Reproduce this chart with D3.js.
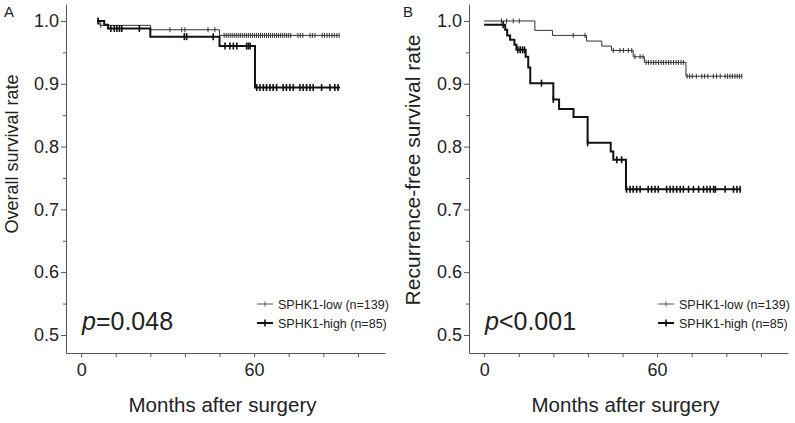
<!DOCTYPE html>
<html><head><meta charset="utf-8">
<script src="https://cdn.jsdelivr.net/npm/d3@7"></script>
<style>body{margin:0;background:#fff} svg{display:block;font-family:"Liberation Sans",Arial,sans-serif}</style>
</head><body><svg id="c" width="795" height="423"></svg>
<script>
// ---------- data ----------
const xTicks = [0, 12, 24, 36, 48, 60, 72, 84, 96];
const xTickLabels = [0, 60];
const yMajorTicks = [0.5, 0.6, 0.7, 0.8, 0.9, 1.0];
const yMinorTicks = [0.55, 0.65, 0.75, 0.85, 0.95];
const seriesNames = ["SPHK1-low (n=139)", "SPHK1-high (n=85)"];

// Panel A: overall survival  [month, survival]
const osLowSteps = [[5.5, 1.0], [6.5, 0.993], [24.1, 0.986], [48.0, 0.977]];
const osLowEnd = 89.5;
const osLowCensor = [5.8, 6.8, 30.8, 34.9, 36.0, 44.0, 46.4, 49.6, 50.3, 51.0, 51.7, 52.4, 53.1, 53.8, 54.5, 55.2, 55.9, 56.6, 57.3, 58.0, 58.7, 59.4, 60.1, 60.8, 61.5, 62.2, 62.9, 63.6, 64.3, 65.0, 65.7, 66.4, 67.1, 67.8, 68.5, 69.2, 69.9, 70.6, 71.3, 72.0, 72.7, 75.2, 76.0, 76.9, 79.4, 80.2, 81.1, 83.6, 84.4, 85.3, 86.1, 87.0, 87.8, 88.7, 89.5];
const osHighSteps = [[5.5, 1.0], [8.0, 0.994], [9.3, 0.988], [24.0, 0.975], [48.0, 0.960], [60.3, 0.894]];
const osHighEnd = 89.8;
const osHighCensor = [5.9, 10.3, 11.5, 12.4, 13.3, 14.1, 20.2, 35.8, 36.6, 45.8, 49.9, 51.6, 52.8, 54.0, 57.4, 58.0, 58.6, 60.9, 62.0, 63.2, 64.3, 65.5, 66.6, 67.8, 70.1, 71.2, 72.4, 73.6, 75.9, 77.0, 78.2, 79.4, 80.5, 83.4, 86.3, 88.0, 89.1];

// Panel B: recurrence-free survival
const rfsLowSteps = [[0, 1.0], [17.6, 0.985], [23.7, 0.977], [35.5, 0.968], [40.8, 0.960], [44.2, 0.953], [51.7, 0.943], [55.6, 0.934], [70.0, 0.912]];
const rfsLowEnd = 89.4;
const rfsLowCensor = [6.0, 7.8, 10.1, 12.2, 30.9, 35.0, 44.8, 47.1, 48.3, 50.0, 51.2, 52.3, 54.1, 55.1, 56.2, 57.0, 57.9, 58.8, 59.6, 60.5, 61.4, 62.2, 63.1, 64.0, 64.8, 65.7, 66.6, 67.4, 68.3, 69.1, 70.4, 71.3, 72.2, 73.6, 75.5, 76.5, 77.6, 79.5, 80.6, 81.9, 83.6, 84.4, 85.3, 86.1, 87.0, 87.8, 88.6, 89.4];
const rfsHighSteps = [[0, 0.994], [7.3, 0.986], [8.0, 0.977], [9.0, 0.970], [10.5, 0.962], [11.2, 0.954], [14.4, 0.943], [15.3, 0.926], [16.0, 0.901], [24.0, 0.875], [26.0, 0.860], [31.0, 0.847], [35.9, 0.806], [43.9, 0.792], [44.8, 0.779], [49.2, 0.732]];
const rfsHighEnd = 89.0;
const rfsHighCensor = [6.6, 11.7, 12.5, 13.3, 14.0, 19.9, 24.0, 35.9, 46.0, 47.7, 49.4, 50.6, 51.7, 52.9, 54.1, 56.9, 58.1, 59.3, 60.4, 63.3, 64.5, 65.6, 66.8, 68.0, 69.1, 70.9, 72.6, 74.4, 76.1, 77.3, 78.4, 79.6, 80.2, 83.6, 86.5, 87.7, 88.8];

// ---------- drawing ----------
const svg = d3.select("#c");
const FONT = '"Liberation Sans", Arial, sans-serif';

const panels = [
  {label: "A", left: 66, right: 385, ytitle: "Overall survival rate", ytitleX: 18, ytitleY: 154, ytitleSize: 18,
   pText: "=0.048", pSym: "p", pX: 82, legX: 257,
   series: [{steps: osLowSteps, end: osLowEnd, censor: osLowCensor, thick: false},
            {steps: osHighSteps, end: osHighEnd, censor: osHighCensor, thick: true}]},
  {label: "B", left: 469, right: 788, ytitle: "Recurrence-free survival rate", ytitleX: 420, ytitleY: 170, ytitleSize: 21,
   pText: "<0.001", pSym: "p", pX: 485, legX: 658,
   series: [{steps: rfsLowSteps, end: rfsLowEnd, censor: rfsLowCensor, thick: false},
            {steps: rfsHighSteps, end: rfsHighEnd, censor: rfsHighCensor, thick: true}]}
];

const plotTop = 4, plotBottom = 353;
const axisColor = "#555", textColor = "#222";

function survAt(steps, t) {
  let s = steps[0][1];
  for (const [tt, v] of steps) { if (tt <= t) s = v; }
  return s;
}

panels.forEach(p => {
  const x = d3.scaleLinear().domain([-5.25, 105.4]).range([p.left, p.right]);
  const y = d3.scaleLinear().domain([0.4713, 1.027]).range([plotBottom, plotTop]);
  const g = svg.append("g");

  const xa = g.append("g").attr("transform", `translate(0,${plotBottom})`)
    .call(d3.axisBottom(x).tickValues(xTicks).tickSize(4).tickSizeOuter(0).tickPadding(6)
      .tickFormat(d => xTickLabels.includes(d) ? String(d) : ""));
  const ya = g.append("g").attr("transform", `translate(${p.left},0)`)
    .call(d3.axisLeft(y).tickValues(yMajorTicks).tickSize(5).tickSizeOuter(0).tickPadding(2)
      .tickFormat(d3.format(".1f")));
  const ym = g.append("g").attr("transform", `translate(${p.left},0)`)
    .call(d3.axisLeft(y).tickValues(yMinorTicks).tickSize(3).tickSizeOuter(0).tickFormat(""));
  ym.select(".domain").remove();
  [xa, ya, ym].forEach(a => {
    a.selectAll("path,line").attr("stroke", axisColor).attr("stroke-width", 1);
    a.selectAll("text").attr("font-size", 18).attr("font-family", FONT).attr("fill", textColor);
  });

  const line = d3.line().x(d => x(d[0])).y(d => y(d[1])).curve(d3.curveStepAfter);
  p.series.forEach(s => {
    const pts = s.steps.concat([[s.end, s.steps[s.steps.length - 1][1]]]);
    g.append("path").attr("d", line(pts)).attr("fill", "none")
      .attr("stroke", s.thick ? "#111" : "#333").attr("stroke-width", s.thick ? 2 : 1);
    const h = s.thick ? 3.5 : 2.5;
    g.selectAll(null).data(s.censor).enter().append("line")
      .attr("x1", d => x(d)).attr("x2", d => x(d))
      .attr("y1", d => y(survAt(s.steps, d)) - h).attr("y2", d => y(survAt(s.steps, d)) + h)
      .attr("stroke", s.thick ? "#111" : "#333").attr("stroke-width", s.thick ? 1.6 : 1);
  });

  svg.append("text").attr("x", p.label === "A" ? 4 : 403).attr("y", 17).text(p.label)
    .attr("font-size", 15).attr("font-family", FONT).attr("fill", textColor);

  svg.append("text").attr("transform", `translate(${p.ytitleX},${p.ytitleY}) rotate(-90)`)
    .attr("text-anchor", "middle").text(p.ytitle)
    .attr("font-size", p.ytitleSize).attr("font-family", FONT).attr("fill", textColor);

  svg.append("text").attr("x", (p.left + p.right) / 2 - 3).attr("y", 412).attr("text-anchor", "middle")
    .text("Months after surgery").attr("font-size", 20.5).attr("font-family", FONT).attr("fill", textColor);

  const pt = svg.append("text").attr("x", p.pX).attr("y", 330)
    .attr("font-size", 25).attr("font-family", FONT).attr("fill", textColor);
  pt.append("tspan").attr("font-style", "italic").text(p.pSym);
  pt.append("tspan").text(p.pText);

  [304, 323].forEach((ly, i) => {
    const thick = i === 1;
    svg.append("line").attr("x1", p.legX).attr("x2", p.legX + 16).attr("y1", ly).attr("y2", ly)
      .attr("stroke", thick ? "#111" : "#555").attr("stroke-width", thick ? 2 : 1);
    svg.append("line").attr("x1", p.legX + 8).attr("x2", p.legX + 8).attr("y1", ly - (thick ? 3.5 : 2.5)).attr("y2", ly + (thick ? 3.5 : 2.5))
      .attr("stroke", thick ? "#111" : "#555").attr("stroke-width", thick ? 1.6 : 1);
    svg.append("text").attr("x", p.legX + 21).attr("y", ly + 4.5).text(seriesNames[i])
      .attr("font-size", 12.5).attr("font-family", FONT).attr("fill", textColor);
  });
});
</script></body></html>
